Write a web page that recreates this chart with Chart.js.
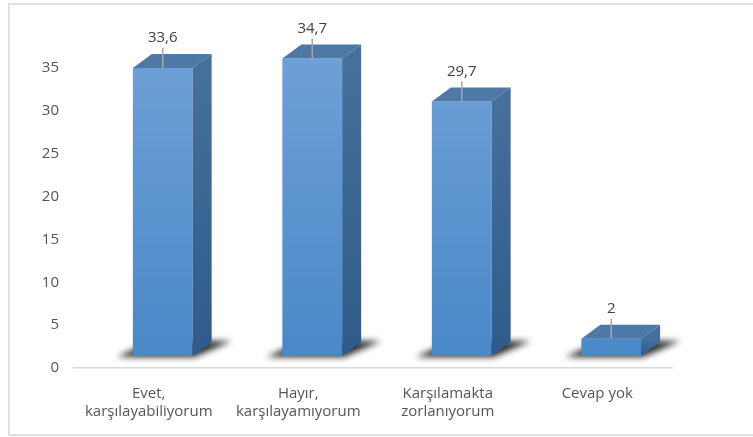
<!DOCTYPE html>
<html>
<head>
<meta charset="utf-8">
<script src="https://cdn.jsdelivr.net/npm/chart.js@4.4.1/dist/chart.umd.min.js"></script>
<style>
  html, body { margin: 0; padding: 0; background: #fff; }
  #wrap { position: relative; width: 753px; height: 437px; overflow: hidden; }
  #frame { position: absolute; left: 8px; top: 3px; width: 800px; height: 429px; border: 2px solid #e0e0e0; }
  canvas { position: absolute; left: 0; top: 0; }
</style>
</head>
<body>
<div id="wrap">
  <div id="frame"></div>
  <canvas id="chart" width="753" height="437"></canvas>
</div>
<script>
const categories = [["Evet,", "karşılayabiliyorum"], ["Hayır,", "karşılayamıyorum"], ["Karşılamakta", "zorlanıyorum"], "Cevap yok"];
const values = [33.6, 34.7, 29.7, 2];
const valueLabels = ["33,6", "34,7", "29,7", "2"];
const yTicks = [0, 5, 10, 15, 20, 25, 30, 35];

const FONT = "'Open Sans', 'DejaVu Sans', sans-serif";
// perspective of the fake 3d bars
const SHIFT_X = 14, SHIFT_Y = -12;
const DEPTH_X = 19, DEPTH_Y = -14;

function vGrad(ctx, top, bottom, c1, c2) {
  const g = ctx.createLinearGradient(0, top, 0, bottom);
  g.addColorStop(0, c1);
  g.addColorStop(1, c2);
  return g;
}

const bar3d = {
  id: "bar3d",
  beforeDatasetsDraw(chart) {
    const ctx = chart.ctx;
    ctx.save();
    ctx.translate(SHIFT_X, SHIFT_Y);
    // floor shadows
    chart.getDatasetMeta(0).data.forEach((el) => {
      const l = el.x - el.width / 2, r = el.x + el.width / 2, b = el.base;
      ctx.save();
      ctx.filter = "blur(3px)";
      ctx.fillStyle = "rgba(20,20,20,0.9)";
      ctx.beginPath();
      ctx.moveTo(l - 16, b + 1);
      ctx.lineTo(r + 2, b + 1);
      ctx.lineTo(r + DEPTH_X + 20, b + DEPTH_Y - 1);
      ctx.lineTo(l + DEPTH_X, b + DEPTH_Y - 1);
      ctx.closePath();
      ctx.fill();
      ctx.restore();
    });
  },
  afterDatasetsDraw(chart) {
    const ctx = chart.ctx;
    const meta = chart.getDatasetMeta(0);
    meta.data.forEach((el) => {
      const l = el.x - el.width / 2, r = el.x + el.width / 2, t = el.y, b = el.base;
      // side face
      ctx.fillStyle = vGrad(ctx, t, b, "#46709c", "#2e5b89");
      ctx.beginPath();
      ctx.moveTo(r, t);
      ctx.lineTo(r + DEPTH_X, t + DEPTH_Y);
      ctx.lineTo(r + DEPTH_X, b + DEPTH_Y);
      ctx.lineTo(r, b);
      ctx.closePath();
      ctx.fill();
      // top face
      ctx.fillStyle = "#4e78a6";
      ctx.beginPath();
      ctx.moveTo(l, t);
      ctx.lineTo(l + DEPTH_X, t + DEPTH_Y);
      ctx.lineTo(r + DEPTH_X, t + DEPTH_Y);
      ctx.lineTo(r, t);
      ctx.closePath();
      ctx.fill();
    });
    // value labels with leader lines
    meta.data.forEach((el, i) => {
      ctx.strokeStyle = "#a6a6a6";
      ctx.lineWidth = 1.5;
      ctx.beginPath();
      ctx.moveTo(el.x, el.y - 20);
      ctx.lineTo(el.x, el.y);
      ctx.stroke();
      ctx.fillStyle = "#404040";
      ctx.font = "15px " + FONT;
      ctx.textAlign = "center";
      ctx.textBaseline = "middle";
      ctx.fillText(valueLabels[i], el.x, el.y - 30);
    });
    ctx.restore();
  }
};

new Chart(document.getElementById("chart"), {
  type: "bar",
  data: {
    labels: categories,
    datasets: [{
      data: values,
      clip: false,
      backgroundColor(c) {
        const area = c.chart.chartArea;
        if (!area) return "#5b9bd5";
        return vGrad(c.chart.ctx, area.top, area.bottom, "#6ea0d6", "#4a88c8");
      },
      borderWidth: 0,
      categoryPercentage: 1,
      barPercentage: 0.4
    }]
  },
  options: {
    responsive: false,
    animation: false,
    layout: { padding: { left: 30, right: 81, top: 68, bottom: 9 } },
    plugins: { legend: { display: false }, tooltip: { enabled: false } },
    scales: {
      x: {
        grid: { display: false, drawTicks: false },
        border: { display: true, color: "#d9d9d9", width: 1.5 },
        ticks: { color: "#555555", font: { family: FONT, size: 15 }, padding: 17, maxRotation: 0 },
        afterFit(s) { s.height = 60; }
      },
      y: {
        min: 0,
        max: 35,
        afterBuildTicks(s) { s.ticks = yTicks.map((v) => ({ value: v })); },
        grid: { display: false, drawTicks: false },
        border: { display: false },
        ticks: { color: "#555555", font: { family: FONT, size: 15 }, padding: 15 },
        afterFit(s) { s.width = 44; }
      }
    }
  },
  plugins: [bar3d]
});
</script>
</body>
</html>
